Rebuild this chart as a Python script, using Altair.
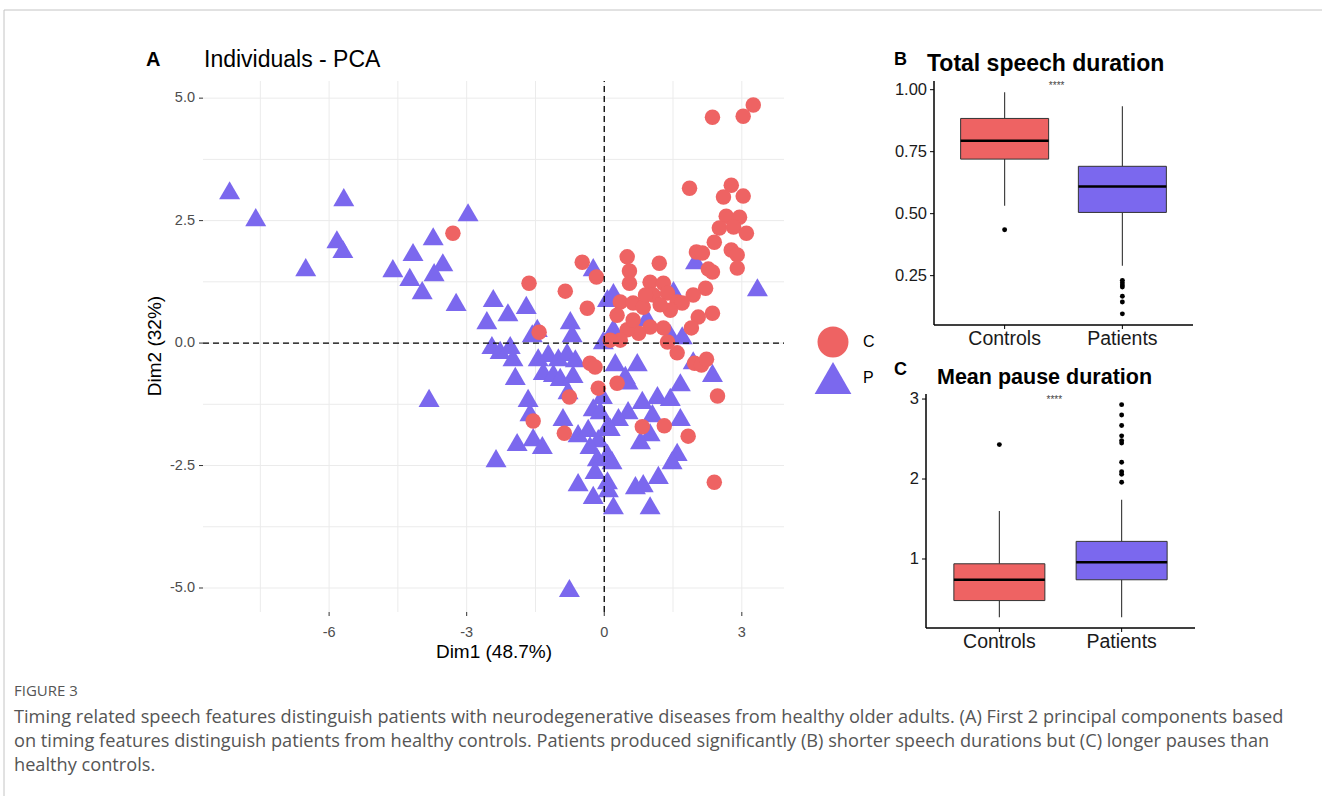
import altair as alt
import pandas as pd

RED = "#EE6363"
PURPLE = "#7B68EE"
FONT = "Liberation Sans"
CAP_FONT = "Open Sans"
W, H = 1322, 796

# ---------------- Panel A: PCA individuals ----------------
ctrl_x = [3.25, 3.03, 2.36, 1.86, 2.77, 2.60, 3.03, 2.66, 2.95, 2.51, 2.82, 3.10, 2.40, 2.01, 2.14,
          2.77, 2.90, 2.90, 2.27, 2.36, 2.21, 1.94, 2.36, 2.05, 1.90, 0.50, 1.20, 0.55, 0.55, -0.48,
          -0.17, -1.64, -0.85, -0.37, -1.42, 1.00, 1.29, 0.35, 0.63, 1.07, 1.38, 1.59, 1.70, 1.44, 0.85,
          0.28, 1.29, 1.00, 0.75, 0.50, 0.35, 0.13, 1.38, 1.59, 1.97, 2.12, 2.23, -0.31, -0.20, 0.28,
          -0.13, -0.76, -1.55, -0.87, 0.83, 1.31, 1.83, 2.47, 2.40, -3.30, 0.90, 1.22, 0.63]
ctrl_y = [4.86, 4.63, 4.61, 3.16, 3.22, 2.98, 3.00, 2.59, 2.57, 2.35, 2.37, 2.24, 2.06, 1.86, 1.84,
          1.90, 1.80, 1.53, 1.51, 1.45, 1.12, 0.98, 0.61, 0.53, 0.31, 1.76, 1.63, 1.47, 1.22, 1.65,
          1.35, 1.22, 1.06, 0.71, 0.22, 1.24, 1.22, 0.84, 0.82, 0.98, 1.02, 0.84, 0.82, 0.67, 0.73,
          0.57, 0.31, 0.33, 0.20, 0.27, 0.06, 0.06, 0.02, -0.20, -0.41, -0.45, -0.33, -0.41, -0.49, -0.82,
          -0.92, -1.10, -1.59, -1.84, -1.71, -1.69, -1.90, -1.08, -2.84, 2.24, 0.98, 0.78, 0.47]
pat_x = [-8.17, -7.60, -5.68, -6.51, -5.83, -5.70, -2.97, -3.73, -4.17, -4.61,
         -4.24, -3.52, -3.71, -3.97, -3.23, -3.82, -0.76, -2.42, -2.56, -2.10,
         -1.70, -1.46, -0.74, -0.70, -2.45, -2.27, -2.05, -1.99, -1.44, -1.22,
         -1.00, -0.81, -0.63, -1.94, -1.33, -1.11, -0.96, -0.68, -1.66, -1.62,
         -0.79, -0.90, -0.57, -0.35, -0.13, -0.24, -1.90, -1.55, -1.35, -2.36,
         -0.15, -0.20, -0.57, -0.24, 0.07, 0.07, 0.07, 0.20, 0.52, 2.36,
         1.66, 0.83, 1.16, 1.44, 0.52, 0.31, 0.13, 1.05, 1.66, 1.00,
         0.79, 1.59, 1.48, 1.18, 0.68, 0.85, 1.00, 0.72, 0.24, 1.94,
         1.99, 0.20, 1.51, 0.93, 0.20, 1.44, 1.70, 3.34, -0.02, -0.24,
         0.07, 0.46, -1.57, -0.04, -0.09, -0.31, 0.17, 0.09]
pat_y = [3.12, 2.57, 2.98, 1.55, 2.12, 1.92, 2.67, 2.18, 1.86, 1.53,
         1.35, 1.65, 1.45, 1.08, 0.84, -1.12, -5.00, 0.92, 0.47, 0.63,
         0.78, 0.31, 0.47, 0.20, -0.04, -0.14, -0.04, -0.29, -0.29, -0.20,
         -0.29, -0.18, -0.31, -0.67, -0.57, -0.61, -0.69, -0.63, -1.12, -1.41,
         -0.96, -1.51, -1.84, -1.73, -1.94, -1.31, -2.02, -1.92, -2.08, -2.35,
         -2.33, -2.59, -2.84, -3.10, -1.67, -2.24, -2.80, -3.31, -0.76, -0.61,
         -0.80, -1.16, -1.06, -1.10, -1.37, -1.51, -1.71, -1.43, -1.51, -1.82,
         -1.98, -2.22, -2.39, -2.69, -2.90, -2.86, -3.31, -0.39, -0.39, -0.35,
         1.69, 1.04, 1.08, 0.53, 0.31, 0.20, 0.16, 1.14, 0.06, 1.55,
         0.92, -0.65, 0.20, -1.06, -1.37, -2.08, -2.39, -2.96]

x_ticks = [-6, -3, 0, 3]
x_tick_labels = ["-6", "-3", "0", "3"]
x_grid = [-7.5, -6, -4.5, -3, -1.5, 0, 1.5, 3]
y_ticks = [-5, -2.5, 0, 2.5, 5]
y_tick_labels = ["-5.0", "-2.5", "0.0", "2.5", "5.0"]
y_grid = [-5, -3.75, -2.5, -1.25, 0, 1.25, 2.5, 3.75, 5]
ref_lines = [0]
X_LIM = [-8.75, 3.92]
Y_LIM = [-5.49, 5.35]
legend_groups = ["C", "P"]

# ---------------- Panels B and C: box plot summaries ----------------
groups = ["Controls", "Patients"]
b_lo = [0.532, 0.29]
b_q1 = [0.72, 0.505]
b_med = [0.794, 0.61]
b_q3 = [0.884, 0.691]
b_hi = [0.99, 0.933]
b_out_grp = ["Controls", "Patients", "Patients", "Patients", "Patients", "Patients", "Patients", "Patients"]
b_out_val = [0.435, 0.231, 0.221, 0.212, 0.204, 0.167, 0.144, 0.096]
b_y_ticks = [0.25, 0.5, 0.75, 1.0]
b_y_labels = ["0.25", "0.50", "0.75", "1.00"]

c_lo = [0.27, 0.27]
c_q1 = [0.48, 0.74]
c_med = [0.74, 0.96]
c_q3 = [0.94, 1.22]
c_hi = [1.60, 1.74]
c_out_grp = ["Controls"] + ["Patients"] * 10
c_out_val = [2.43, 2.93, 2.80, 2.67, 2.54, 2.48, 2.45, 2.21, 2.09, 2.06, 1.96]
c_y_ticks = [1, 2, 3]
c_y_labels = ["1", "2", "3"]

caption_head = "FIGURE 3"
caption_lines = [
    "Timing related speech features distinguish patients with neurodegenerative diseases from healthy older adults. (A) First 2 principal components based",
    "on timing features distinguish patients from healthy controls. Patients produced significantly (B) shorter speech durations but (C) longer pauses than",
    "healthy controls.",
]

# ======================= build panel A =======================
pca = pd.DataFrame({
    "Dim1": pat_x + ctrl_x,
    "Dim2": pat_y + ctrl_y,
    "Groups": ["P"] * len(pat_x) + ["C"] * len(ctrl_x),
})

xsA = alt.Scale(domain=X_LIM, range=[203, 784], nice=False, zero=False)
ysA = alt.Scale(domain=Y_LIM, range=[612, 81], nice=False, zero=False)
grp_color = alt.Scale(domain=legend_groups, range=[RED, PURPLE])
grp_shape = alt.Scale(domain=legend_groups, range=["circle", "triangle-up"])

GRID = "#EBEBEB"
AXC = "#4D4D4D"
vgrid = alt.Chart(pd.DataFrame({"g": x_grid})).mark_rule(color=GRID, strokeWidth=1).encode(
    x=alt.X("g:Q", scale=xsA, axis=None),
    y=alt.YDatum(Y_LIM[0], scale=ysA, axis=None),
    y2=alt.Y2Datum(Y_LIM[1]),
)
hgrid = alt.Chart(pd.DataFrame({"g": y_grid})).mark_rule(color=GRID, strokeWidth=1).encode(
    y=alt.Y("g:Q", scale=ysA, axis=None),
    x=alt.XDatum(X_LIM[0], scale=xsA, axis=None),
    x2=alt.X2Datum(X_LIM[1]),
)

pts = alt.Chart(pca).mark_point(filled=True, opacity=1).encode(
    x=alt.X("Dim1:Q", scale=xsA, axis=None),
    y=alt.Y("Dim2:Q", scale=ysA, axis=None),
    color=alt.Color("Groups:N", scale=grp_color, legend=None),
    shape=alt.Shape("Groups:N", scale=grp_shape, legend=None),
    size=alt.Size("Groups:N", scale=alt.Scale(domain=legend_groups, range=[240, 440]), legend=None),
)

hline = alt.Chart(pd.DataFrame({"r": ref_lines})).mark_rule(color="black", strokeDash=[6, 4], strokeWidth=1.3).encode(
    y=alt.Y("r:Q", scale=ysA, axis=None),
    x=alt.XDatum(X_LIM[0], scale=xsA, axis=None),
    x2=alt.X2Datum(X_LIM[1]),
)
vline = alt.Chart(pd.DataFrame({"r": ref_lines})).mark_rule(color="black", strokeDash=[6, 4], strokeWidth=1.3).encode(
    x=alt.X("r:Q", scale=xsA, axis=None),
    y=alt.YDatum(Y_LIM[0], scale=ysA, axis=None),
    y2=alt.Y2Datum(Y_LIM[1]),
)

xt = pd.DataFrame({"v": x_ticks, "lab": x_tick_labels})
yt = pd.DataFrame({"v": y_ticks, "lab": y_tick_labels})
a_xticks = alt.Chart(xt).mark_tick(orient="vertical", size=4, thickness=1, yOffset=2, color="#333333", opacity=1).encode(
    x=alt.X("v:Q", scale=xsA, axis=None), y=alt.YDatum(Y_LIM[0], scale=ysA, axis=None))
a_xlabels = alt.Chart(xt).mark_text(fontSize=14.5, color=AXC, baseline="middle", align="center", dy=21).encode(
    x=alt.X("v:Q", scale=xsA, axis=None), y=alt.YDatum(Y_LIM[0], scale=ysA, axis=None), text="lab:N")
a_yticks = alt.Chart(yt).mark_tick(orient="horizontal", size=4, thickness=1, xOffset=-2, color="#333333", opacity=1).encode(
    y=alt.Y("v:Q", scale=ysA, axis=None), x=alt.XDatum(X_LIM[0], scale=xsA, axis=None))
a_ylabels = alt.Chart(yt).mark_text(fontSize=14.5, color=AXC, baseline="middle", align="right", dx=-8).encode(
    y=alt.Y("v:Q", scale=ysA, axis=None), x=alt.XDatum(X_LIM[0], scale=xsA, axis=None), text="lab:N")

panelA = alt.layer(hgrid, vgrid, pts, hline, vline, a_xticks, a_xlabels, a_yticks, a_ylabels)

# legend of panel A (own point scale for the two entries)
leg_y = alt.Scale(domain=legend_groups, range=[342, 378], type="point", padding=0)
leg_df = pd.DataFrame({"g": legend_groups})
leg_sym = alt.Chart(leg_df).mark_point(filled=True, opacity=1).encode(
    x=alt.value(833),
    y=alt.Y("g:N", scale=leg_y, axis=None),
    color=alt.Color("g:N", scale=grp_color, legend=None),
    shape=alt.Shape("g:N", scale=grp_shape, legend=None),
    size=alt.Size("g:N", scale=alt.Scale(domain=legend_groups, range=[960, 1350]), legend=None),
)
leg_lab = alt.Chart(leg_df).mark_text(fontSize=16, color="black", align="left", baseline="middle").encode(
    x=alt.value(863), y=alt.Y("g:N", scale=leg_y, axis=None), text="g:N")
legendA = alt.layer(leg_sym, leg_lab)


# ======================= build panels B, C =======================
def box_panel(lo, q1, med, q3, hi, out_grp, out_val, x_range, y_dom, y_range,
              y_ticks_v, y_labels, box_w, star_y, star_dx):
    stats = pd.DataFrame({"grp": groups, "lo": lo, "q1": q1, "med": med, "q3": q3, "hi": hi})
    outs = pd.DataFrame({"grp": out_grp, "val": out_val})
    stars = pd.DataFrame({"grp": ["Controls"], "val": [star_y], "lab": ["****"]})
    ytk = pd.DataFrame({"v": y_ticks_v, "lab": y_labels})
    xs = alt.Scale(domain=groups, range=x_range, type="point", padding=0.6)
    ys = alt.Scale(domain=y_dom, range=y_range, nice=False, zero=False)
    x0 = x_range[0]
    base = alt.Chart(stats)
    xenc = alt.X("grp:N", scale=xs, axis=None)
    ybot = alt.YDatum(y_dom[0], scale=ys, axis=None)
    w_lo = base.mark_rule(color="#333333", strokeWidth=1.1).encode(
        x=xenc, y=alt.Y("lo:Q", scale=ys, axis=None), y2="q1:Q")
    w_hi = base.mark_rule(color="#333333", strokeWidth=1.1).encode(
        x=xenc, y=alt.Y("q3:Q", scale=ys, axis=None), y2="hi:Q")
    box = base.mark_bar(size=box_w, stroke="#333333", strokeWidth=1, opacity=1).encode(
        x=xenc, y=alt.Y("q1:Q", scale=ys, axis=None), y2="q3:Q",
        color=alt.Color("grp:N", scale=alt.Scale(domain=groups, range=[RED, PURPLE]), legend=None))
    md = base.mark_tick(size=box_w, thickness=2.5, color="black", orient="horizontal", opacity=1).encode(
        x=xenc, y=alt.Y("med:Q", scale=ys, axis=None))
    ot = alt.Chart(outs).mark_circle(size=24, color="black", opacity=1).encode(
        x=xenc, y=alt.Y("val:Q", scale=ys, axis=None))
    st = alt.Chart(stars).mark_text(fontSize=10, color="#444444", dx=star_dx, baseline="middle").encode(
        x=xenc, y=alt.Y("val:Q", scale=ys, axis=None), text="lab:N")
    # axes drawn from the scales
    y_line = base.mark_rule(color="black", strokeWidth=1).encode(
        x=alt.value(x0), y=ybot, y2=alt.Y2Datum(y_dom[1]))
    x_line = base.mark_rule(color="black", strokeWidth=1).encode(
        y=ybot, x=alt.value(x0), x2=alt.value(x_range[1]))
    x_tk = base.mark_tick(orient="vertical", size=4, thickness=1, yOffset=2, color="black", opacity=1).encode(
        x=xenc, y=ybot)
    x_lb = base.mark_text(fontSize=19.5, color="#1A1A1A", baseline="middle", align="center", dy=14).encode(
        x=xenc, y=ybot, text="grp:N")
    y_tk = alt.Chart(ytk).mark_tick(orient="horizontal", size=4, thickness=1, xOffset=-2, color="black", opacity=1).encode(
        x=alt.value(x0), y=alt.Y("v:Q", scale=ys, axis=None))
    y_lb = alt.Chart(ytk).mark_text(fontSize=16.5, color="#1A1A1A", baseline="middle", align="right").encode(
        x=alt.value(x0 - 7), y=alt.Y("v:Q", scale=ys, axis=None), text="lab:N")
    return alt.layer(w_lo, w_hi, box, md, ot, st, y_line, x_line, x_tk, x_lb, y_tk, y_lb)


panelB = box_panel(b_lo, b_q1, b_med, b_q3, b_hi, b_out_grp, b_out_val,
                   x_range=[934, 1193], y_dom=[0.051, 1.035], y_range=[325, 81],
                   y_ticks_v=b_y_ticks, y_labels=b_y_labels,
                   box_w=88, star_y=1.016, star_dx=52)
panelC = box_panel(c_lo, c_q1, c_med, c_q3, c_hi, c_out_grp, c_out_val,
                   x_range=[926, 1195], y_dom=[0.137, 3.063], y_range=[628, 394],
                   y_ticks_v=c_y_ticks, y_labels=c_y_labels,
                   box_w=91, star_y=2.988, star_dx=55)


# ======================= text annotations =======================
def label(text, x, y, size, weight="normal", color="black", align="left", baseline="alphabetic", **kw):
    return alt.Chart(pd.DataFrame({"t": [text]})).mark_text(
        align=align, baseline=baseline, fontSize=size, fontWeight=weight, color=color, **kw
    ).encode(x=alt.value(x), y=alt.value(y), text="t:N")


texts = [
    label("A", 146, 66, 20, "bold"),
    label("Individuals - PCA", 204, 67, 23),
    label("Dim1 (48.7%)", 494, 652, 19, align="center", baseline="middle"),
    label("Dim2 (32%)", 155, 346, 19, align="center", baseline="middle", angle=270),
    label("B", 894, 65, 18, "bold"),
    label("Total speech duration", 927, 71, 23, "bold"),
    label("C", 894, 375, 18, "bold"),
    label("Mean pause duration", 937, 384, 21.5, "bold"),
    label(caption_head, 14, 696, 15, color="#555555", font=CAP_FONT),
    label("\n".join(caption_lines), 14, 718, 18.2, color="#555555", baseline="middle",
          lineBreak="\n", lineHeight=24.2, font=CAP_FONT),
]

border_top = alt.Chart(pd.DataFrame({"d": [0]})).mark_rule(color="#C4C4C4", strokeWidth=1).encode(
    x=alt.value(4), x2=alt.value(W), y=alt.value(10))
border_left = alt.Chart(pd.DataFrame({"d": [0]})).mark_rule(color="#C4C4C4", strokeWidth=1).encode(
    x=alt.value(4), y=alt.value(10), y2=alt.value(H))

chart = alt.layer(border_top, border_left, panelA, legendA, panelB, panelC, *texts).resolve_scale(
    x="independent", y="independent", color="independent", shape="independent", size="independent"
).properties(
    width=W, height=H, autosize=alt.AutoSizeParams(type="none"), padding=0, background="white"
).configure(font=FONT).configure_view(stroke=None)

chart.save("out.html", embed_options={"renderer": "svg", "actions": False})
